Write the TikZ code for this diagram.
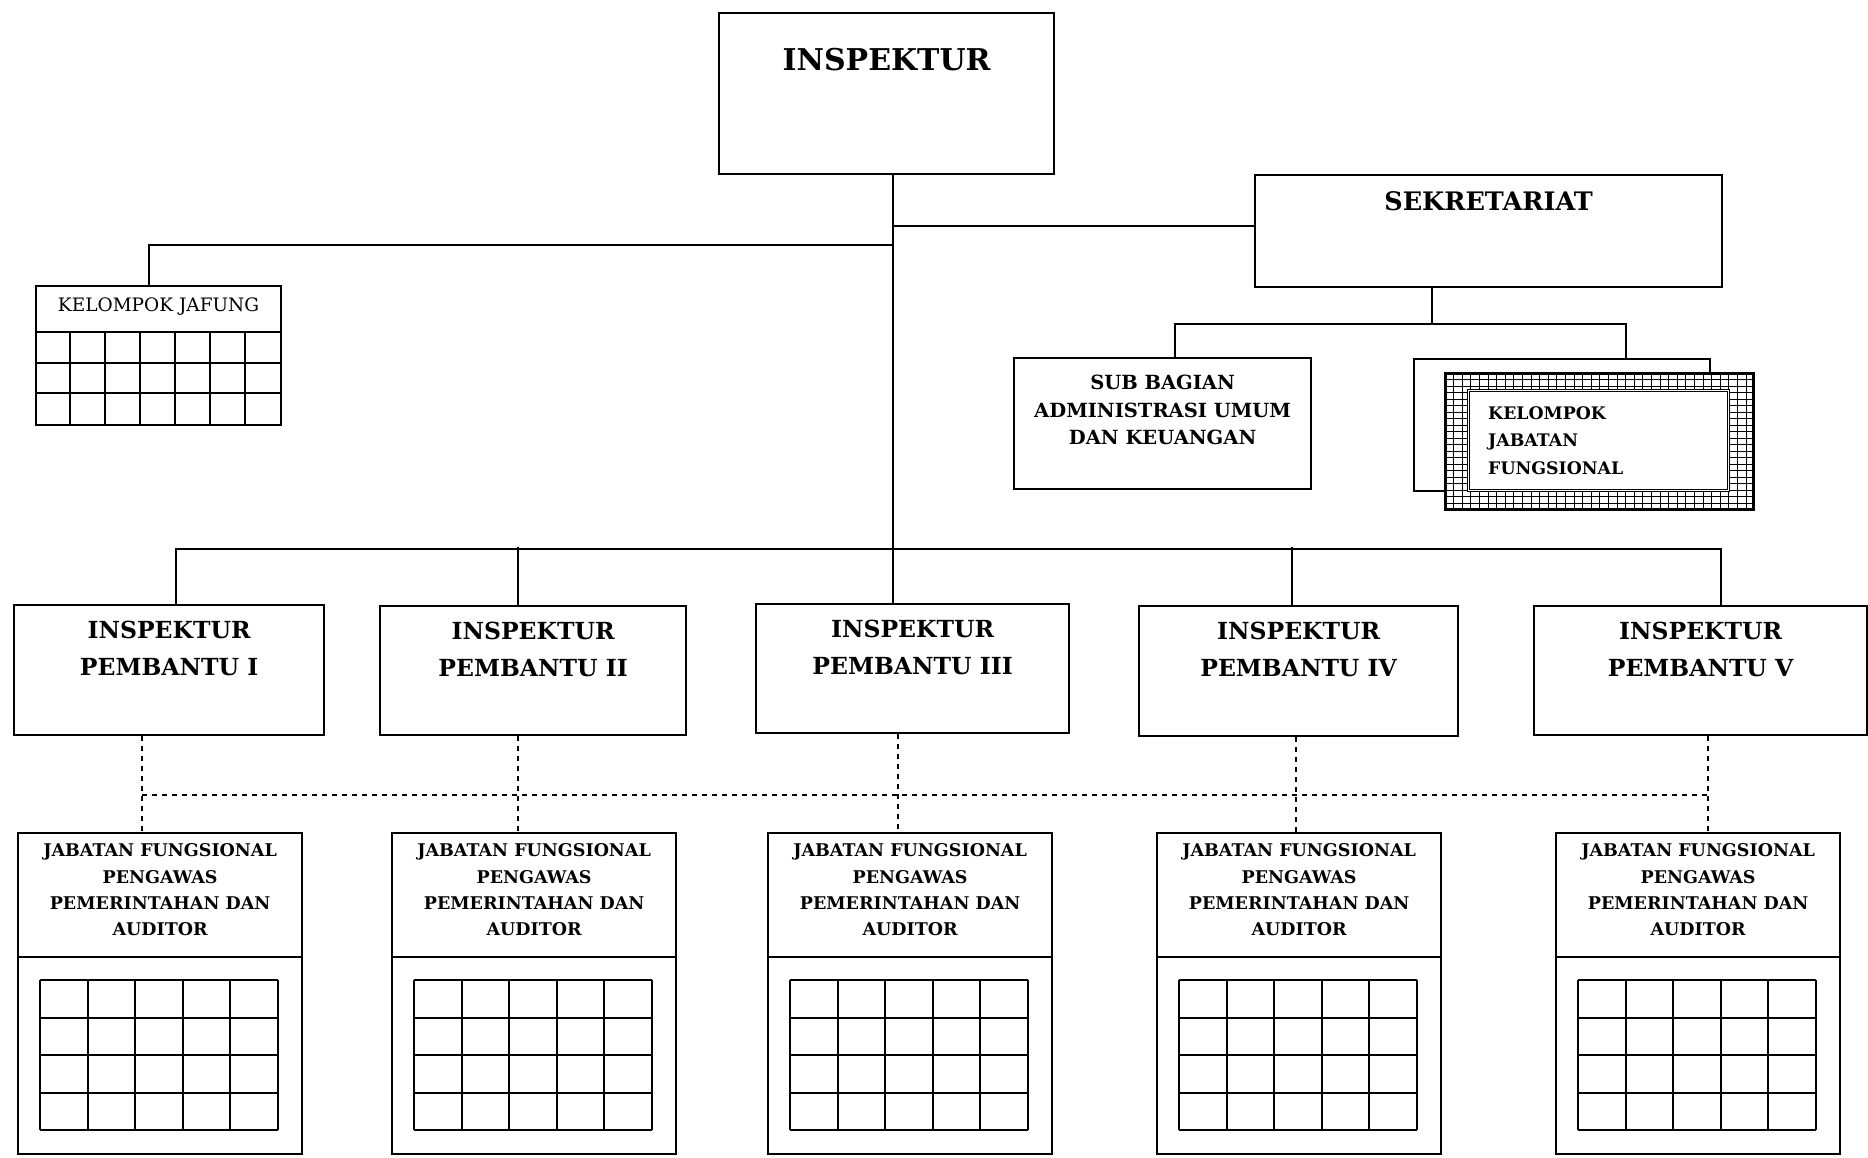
\documentclass[tikz,border=0pt]{standalone}
\usepackage{fontspec}
\setmainfont{DejaVu Serif}
\tikzset{
  box/.style={draw, line width=2.2pt, fill=white, anchor=north west, inner sep=0pt},
  txt/.style 2 args={font=\bfseries\fontsize{#1}{#2}\selectfont, align=center, inner sep=0pt},
  link/.style={line width=2.2pt},
  dotlink/.style={line width=2.4pt, dash pattern=on 5pt off 5pt},
  cell/.style={line width=2pt},
  hatch/.style={line width=0.8pt},
}
\begin{document}
\begin{tikzpicture}[x=1pt, y=-1pt]
      \path[fill=white, use as bounding box] (0,0) rectangle (1868,1157);
      % head
      \node[box, minimum width=335pt, minimum height=161pt] at (718,12) (insp) {};
      \node[txt={30}{36}] at ([yshift=-48pt]insp.north) (inspT) {INSPEKTUR};
      % secretariat
      \node[box, minimum width=467pt, minimum height=112pt] at (1254,174) (sek) {};
      \node[txt={25.5}{30}] at ([yshift=-27pt]sek.north) (sekT) {SEKRETARIAT};
      % jafung group
      \node[box, minimum width=245pt, minimum height=139pt] at (35,285) (jaf) {};
      \node[font=\fontsize{18.5}{21}\selectfont, inner sep=0pt] at ([yshift=-22pt]jaf.north) (jafT) {KELOMPOK JAFUNG};
      \draw[cell] ([yshift=-47pt]jaf.north west) -- ([yshift=-47pt]jaf.north east);
      \foreach \i in {1,...,6}
        \draw[cell] ([xshift=\i*35pt, yshift=-47pt]jaf.north west) -- ([xshift=\i*35pt]jaf.south west);
      \foreach \k in {1,2}
        \draw[cell] ([yshift=-47pt-\k*30.67pt]jaf.north west) -- ++(245,0);
      % sub bagian
      \node[box, minimum width=297pt, minimum height=131pt] at (1013,357) (sub) {};
      \node[txt={19.5}{27.5}] at ([yshift=-53pt]sub.north) (subT) {SUB BAGIAN\\ADMINISTRASI UMUM\\DAN KEUANGAN};
      % functional group, back sheet and hatched frame
      \node[box, minimum width=296pt, minimum height=132pt] at (1413,358) (kjfB) {};
      \node[box, minimum width=307pt, minimum height=135pt] at (1445,373) (kjfH) {};
      \begin{scope}
        \clip (kjfH.north west) rectangle (kjfH.south east);
        \foreach \i in {1,...,35}
          \draw[hatch] ([xshift=\i*8.6pt]kjfH.north west) -- ([xshift=\i*8.6pt]kjfH.south west);
        \foreach \k in {1,...,20}
          \draw[hatch] ([yshift=-\k*6.5pt]kjfH.north west) -- ([yshift=-\k*6.5pt]kjfH.north east);
      \end{scope}
      \draw[line width=2.2pt] (kjfH.north west) rectangle (kjfH.south east);
      \node[draw, double, double distance=1.4pt, line width=1pt, fill=white, anchor=north west,
            inner sep=0pt, minimum width=260pt, minimum height=100pt] at (1468,390) (kjfI) {};
      \node[txt={17.3}{27.5}, align=left, anchor=west] at ([xshift=20pt]kjfI.west) (kjfT) {KELOMPOK\\JABATAN\\FUNGSIONAL};
      % assistant inspectors
      \node[box, minimum width=310pt, minimum height=130pt] at (13,604) (p1) {};
      \node[box, minimum width=306pt, minimum height=129pt] at (379,605) (p2) {};
      \node[box, minimum width=313pt, minimum height=129pt] at (755,603) (p3) {};
      \node[box, minimum width=319pt, minimum height=130pt] at (1138,605) (p4) {};
      \node[box, minimum width=333pt, minimum height=129pt] at (1533,605) (p5) {};
      \node[txt={23.5}{37}] at ([yshift=-44pt]p1.north) (p1T) {INSPEKTUR\\PEMBANTU I};
      \node[txt={23.5}{37}] at ([yshift=-44pt]p2.north) (p2T) {INSPEKTUR\\PEMBANTU II};
      \node[txt={23.5}{37}] at ([yshift=-44pt]p3.north) (p3T) {INSPEKTUR\\PEMBANTU III};
      \node[txt={23.5}{37}] at ([yshift=-44pt]p4.north) (p4T) {INSPEKTUR\\PEMBANTU IV};
      \node[txt={23.5}{37}] at ([yshift=-44pt]p5.north) (p5T) {INSPEKTUR\\PEMBANTU V};
      % functional auditors
      \foreach \n/\x in {1/17, 2/391, 3/767, 4/1156, 5/1555} {
        \node[box, minimum width=284pt, minimum height=321pt] at (\x,832) (j\n) {};
        \node[txt={17.5}{26.3}] at ([yshift=-58pt]j\n.north) (j\n T) {JABATAN FUNGSIONAL\\PENGAWAS\\PEMERINTAHAN DAN\\AUDITOR};
        \draw[cell] ([yshift=-125pt]j\n.north west) -- ([yshift=-125pt]j\n.north east);
        \foreach \i in {0,...,5}
          \draw[cell] ([xshift=23pt+\i*47.6pt, yshift=-148pt]j\n.north west) -- ++(0,150);
        \foreach \k in {0,...,4}
          \draw[cell] ([xshift=23pt, yshift=-148pt-\k*37.5pt]j\n.north west) -- ++(238,0);
      }
      % solid lines
      \coordinate (bus) at ([xshift=6pt, yshift=-374pt]insp.south);
      \draw[link] ([xshift=6pt]insp.south) -- (bus);
      \draw[link] ([yshift=5pt]sek.west) -- ([yshift=5pt]sek.west -| bus);
      \draw[link] ([xshift=-10pt]jaf.north) -- ++(0,-40) -| (bus);
      \draw[link] ([xshift=-57pt]sek.south) -- ++(0,36) coordinate (sekbus);
      \draw[link] ([xshift=12pt]sub.north) |- (sekbus) -| ([xshift=64pt]kjfB.north);
      \draw[link] ([xshift=7pt]p1.north) |- (bus) -| ([xshift=20pt]p5.north);
      \draw[link] ([xshift=-15pt]p2.north) -- ++(0,-58);
      \draw[link] (bus) -- (bus |- p3.north);
      \draw[link] ([xshift=-7pt]p4.north) -- ++(0,-58);
      % dashed lines
      \draw[dotlink] ([xshift=-27pt]p1.south) -- ([xshift=-18pt]j1.north);
      \draw[dotlink] ([xshift=-15pt]p2.south) -- ([xshift=-16pt]j2.north);
      \draw[dotlink] ([xshift=-14.5pt]p3.south) -- ([xshift=-12pt]j3.north);
      \draw[dotlink] ([xshift=-2.5pt]p4.south) -- ([xshift=-3pt]j4.north);
      \draw[dotlink] ([xshift=7.5pt]p5.south) -- ([xshift=10pt]j5.north);
      \draw[dotlink] ([xshift=-18pt, yshift=37pt]j1.north) -- ([xshift=10pt, yshift=37pt]j5.north);
\end{tikzpicture}
\end{document}
